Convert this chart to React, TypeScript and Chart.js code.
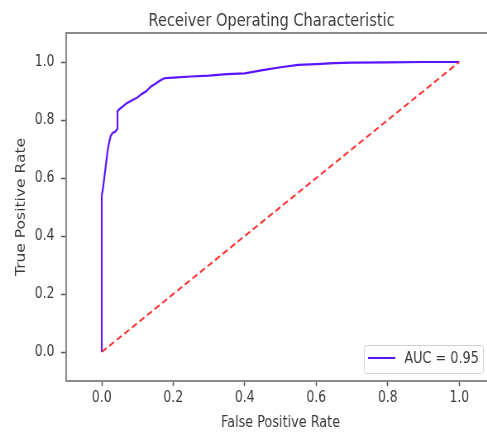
import React, { useEffect, useRef } from "react";
import { Chart, registerables } from "chart.js";

Chart.register(...registerables);

const TITLE = "Receiver Operating Characteristic";
const X_LABEL = "False Positive Rate";
const Y_LABEL = "True Positive Rate";
const LEGEND_LABEL = "AUC = 0.95";

const X_TICKS = [0, 0.2, 0.4, 0.6, 0.8, 1.0];
const Y_TICKS = [0, 0.2, 0.4, 0.6, 0.8, 1.0];

const FPR = [0, 0, 0.003, 0.005, 0.008, 0.012, 0.016, 0.02, 0.025, 0.03, 0.038, 0.044, 0.044, 0.05, 0.06, 0.07, 0.085, 0.1, 0.112, 0.125, 0.137, 0.15, 0.162, 0.175, 0.2, 0.25, 0.3, 0.35, 0.4, 0.45, 0.5, 0.55, 0.6, 0.65, 0.7, 0.8, 0.9, 1.0];
const TPR = [0, 0.54, 0.56, 0.58, 0.61, 0.65, 0.69, 0.72, 0.745, 0.755, 0.76, 0.77, 0.83, 0.838, 0.848, 0.858, 0.868, 0.878, 0.89, 0.9, 0.915, 0.925, 0.935, 0.944, 0.946, 0.95, 0.953, 0.958, 0.961, 0.972, 0.982, 0.99, 0.993, 0.996, 0.998, 0.999, 1.0, 1.0];

const DIAG_X = [0, 1];
const DIAG_Y = [0, 1];

const X_MIN = -0.1;
const X_MAX = 1.1;
const Y_MIN = -0.1;
const Y_MAX = 1.1;

// the reference figure is squeezed horizontally; draw wide, then scale in x
const K = 0.827;
const CANVAS_W = 640;
const CANVAS_H = 434;

const ROC_COLOR = "#5a14ff";
const DIAG_COLOR = "#ff3030";
const TEXT_COLOR = "#3a3a3a";
const SPINE_COLOR = "#8a8a8a";
const FONT = "'DejaVu Sans', sans-serif";

const decorPlugin = {
  id: "decor",
  afterDraw(chart: any) {
    const { ctx, chartArea } = chart;
    ctx.save();
    // top spine
    ctx.strokeStyle = SPINE_COLOR;
    ctx.lineWidth = 2;
    ctx.beginPath();
    ctx.moveTo(chartArea.left - 1, chartArea.top);
    ctx.lineTo(chartArea.right, chartArea.top);
    ctx.stroke();

    // title
    ctx.fillStyle = TEXT_COLOR;
    ctx.font = `17.6px ${FONT}`;
    ctx.textAlign = "center";
    ctx.textBaseline = "alphabetic";
    ctx.fillText(TITLE, 271.5 / K, 26);

    // legend
    ctx.font = `15.5px ${FONT}`;
    const tw = ctx.measureText(LEGEND_LABEL).width;
    const boxRight = chartArea.right - 14.5;
    const boxBottom = chartArea.bottom - 8;
    const boxW = 5 + 33 + 11 + tw + 5;
    const boxH = 28;
    const bx = boxRight - boxW;
    const by = boxBottom - boxH;
    ctx.fillStyle = "rgba(255,255,255,0.85)";
    ctx.strokeStyle = "#d0d0d0";
    ctx.lineWidth = 1;
    ctx.beginPath();
    (ctx as any).roundRect(bx + 0.5, by + 0.5, boxW, boxH, 3);
    ctx.fill();
    ctx.stroke();
    const cy = by + boxH / 2 - 1;
    ctx.strokeStyle = ROC_COLOR;
    ctx.lineWidth = 2;
    ctx.beginPath();
    ctx.moveTo(bx + 5, cy);
    ctx.lineTo(bx + 38, cy);
    ctx.stroke();
    ctx.fillStyle = TEXT_COLOR;
    ctx.textAlign = "left";
    ctx.textBaseline = "middle";
    ctx.fillText(LEGEND_LABEL, bx + 49, cy + 1);
    ctx.restore();
  },
};

export default function App() {
  const ref = useRef<HTMLCanvasElement>(null);

  useEffect(() => {
    if (!ref.current) return;
    const roc = FPR.map((x, i) => ({ x, y: TPR[i] }));
    const diag = DIAG_X.map((x, i) => ({ x, y: DIAG_Y[i] }));
    const chart = new Chart(ref.current, {
      type: "scatter",
      data: {
        datasets: [
          {
            label: "diag",
            data: diag,
            showLine: true,
            borderColor: DIAG_COLOR,
            borderWidth: 2,
            borderDash: [7, 4],
            pointRadius: 0,
            tension: 0,
          },
          {
            label: LEGEND_LABEL,
            data: roc,
            showLine: true,
            borderColor: ROC_COLOR,
            borderWidth: 2.2,
            pointRadius: 0,
            tension: 0,
          },
        ],
      },
      options: {
        responsive: false,
        animation: false,
        devicePixelRatio: 1,
        layout: { padding: { top: 33, right: CANVAS_W - 495 / K, left: 0, bottom: 0 } },
        plugins: {
          legend: { display: false },
          title: { display: false },
          tooltip: { enabled: false },
        },
        scales: {
          x: {
            type: "linear",
            min: X_MIN,
            max: X_MAX,
            afterBuildTicks: (s: any) => {
              s.ticks = X_TICKS.map((v) => ({ value: v }));
            },
            afterFit: (s: any) => {
              s.height = 53;
            },
            ticks: {
              callback: (v: any) => Number(v).toFixed(1),
              font: { family: FONT, size: 15 },
              color: TEXT_COLOR,
              padding: 3,
              maxRotation: 0,
              autoSkip: false,
            },
            grid: {
              display: true,
              drawOnChartArea: false,
              drawTicks: true,
              tickLength: 5,
              tickColor: "#555",
              tickWidth: 1.5,
            },
            border: { display: true, color: SPINE_COLOR, width: 2 },
            title: {
              display: true,
              text: X_LABEL,
              font: { family: FONT, size: 15.5 },
              color: TEXT_COLOR,
              padding: { top: 0, bottom: 2 },
            },
          },
          y: {
            type: "linear",
            min: Y_MIN,
            max: Y_MAX,
            afterBuildTicks: (s: any) => {
              s.ticks = Y_TICKS.map((v) => ({ value: v }));
            },
            afterFit: (s: any) => {
              s.width = 66 / K;
            },
            ticks: {
              callback: (v: any) => Number(v).toFixed(1),
              font: { family: FONT, size: 15 },
              color: TEXT_COLOR,
              padding: 8,
              autoSkip: false,
            },
            grid: {
              display: true,
              drawOnChartArea: false,
              drawTicks: true,
              tickLength: 6,
              tickColor: "#555",
              tickWidth: 1.5,
            },
            border: { display: true, color: SPINE_COLOR, width: 2 },
            title: {
              display: true,
              text: Y_LABEL,
              font: { family: FONT, size: 15.5 },
              color: TEXT_COLOR,
              padding: { top: 17, bottom: 0 },
            },
          },
        },
      },
      plugins: [decorPlugin],
    } as any);
    return () => chart.destroy();
  }, []);

  return (
    <div
      style={{
        position: "fixed",
        left: 0,
        top: 0,
        width: 487,
        height: 434,
        overflow: "hidden",
        background: "#fff",
      }}
    >
      <canvas
        ref={ref}
        width={CANVAS_W}
        height={CANVAS_H}
        style={{
          display: "block",
          width: CANVAS_W,
          height: CANVAS_H,
          transform: `scaleX(${K})`,
          transformOrigin: "0 0",
        }}
      />
    </div>
  );
}
